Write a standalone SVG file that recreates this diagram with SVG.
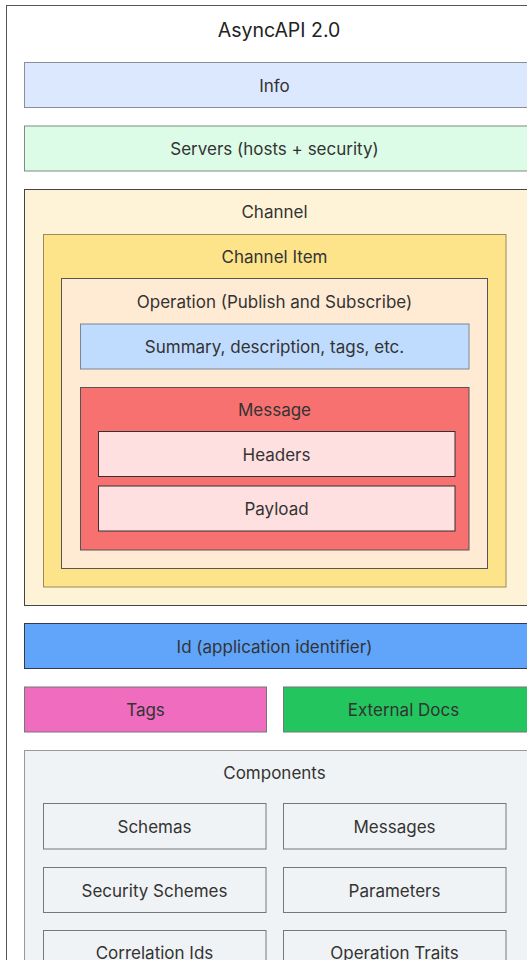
<svg xmlns="http://www.w3.org/2000/svg" width="527" height="960" viewBox="0 0 527 960">
  <style>
    text { font-family: Inter, "Noto Sans", "Liberation Sans", sans-serif; font-size: 17px; fill: #333; text-anchor: middle; }
    .title { font-size: 19.5px; fill: #222; }
    rect { stroke-width: 1; }
  </style>
  <rect width="527" height="960" fill="#ffffff"/>

  <!-- outer frame -->
  <g id="asyncapi">
    <rect x="6.5" y="5.5" width="560" height="1000" fill="#ffffff" stroke="#555"/>
    <text class="title" x="279" y="36.5">AsyncAPI 2.0</text>
  </g>

  <g id="info">
    <rect x="24.5" y="62.5" width="520" height="45" fill="#dbe8fe" stroke="#8a8f96"/>
    <text x="274.5" y="92">Info</text>
  </g>

  <g id="servers">
    <rect x="24.5" y="126" width="520" height="45" fill="#dcfce7" stroke="#7f8c80"/>
    <text x="274.5" y="154.5">Servers (hosts + security)</text>
  </g>

  <g id="channel">
    <rect x="24.5" y="189.5" width="520" height="416" fill="#fef3d6" stroke="#444"/>
    <text x="274.5" y="218">Channel</text>
  </g>

  <g id="channel-item">
    <rect x="43.5" y="234.5" width="462.5" height="352.5" fill="#fde48a" stroke="#9a8a5c"/>
    <text x="274.5" y="262.5">Channel Item</text>
  </g>

  <g id="operation">
    <rect x="61.5" y="278.5" width="426" height="290" fill="#ffebd4" stroke="#555"/>
    <text x="274.5" y="307.5">Operation (Publish and Subscribe)</text>
  </g>

  <g id="summary">
    <rect x="80.5" y="324" width="388.5" height="45" fill="#bfdbfe" stroke="#7a8696"/>
    <text x="274.5" y="352.5">Summary, description, tags, etc.</text>
  </g>

  <g id="message">
    <rect x="80.5" y="387.5" width="388.5" height="162.5" fill="#f87171" stroke="#555"/>
    <text x="274.5" y="416">Message</text>
  </g>

  <g id="headers">
    <rect x="98.5" y="431.5" width="356.5" height="45" fill="#fee0e0" stroke="#333"/>
    <text x="276.5" y="460.5">Headers</text>
  </g>

  <g id="payload">
    <rect x="98.5" y="486" width="356.5" height="45" fill="#fee0e0" stroke="#333"/>
    <text x="276.5" y="515">Payload</text>
  </g>

  <g id="id">
    <rect x="24.5" y="623.5" width="520" height="45" fill="#60a5fa" stroke="#333b4a"/>
    <text x="274.5" y="652.5">Id (application identifier)</text>
  </g>

  <g id="tags">
    <rect x="24.5" y="687" width="242" height="45" fill="#f06cbf" stroke="#777"/>
    <text x="145.5" y="716">Tags</text>
  </g>

  <g id="external-docs">
    <rect x="283.5" y="687" width="260" height="45" fill="#22c55e" stroke="#777"/>
    <text x="403.5" y="716">External Docs</text>
  </g>

  <g id="components">
    <rect x="24.5" y="750.5" width="520" height="300" fill="#f0f3f5" stroke="#999"/>
    <text x="274.5" y="779">Components</text>
  </g>

  <g id="schemas">
    <rect x="43.5" y="803.5" width="222.5" height="45.5" fill="#f0f3f5" stroke="#777"/>
    <text x="154.5" y="833">Schemas</text>
  </g>

  <g id="messages">
    <rect x="283.5" y="803.5" width="222.5" height="45.5" fill="#f0f3f5" stroke="#777"/>
    <text x="394.5" y="833">Messages</text>
  </g>

  <g id="security-schemes">
    <rect x="43.5" y="867.5" width="222.5" height="45" fill="#f0f3f5" stroke="#777"/>
    <text x="154.5" y="896.5">Security Schemes</text>
  </g>

  <g id="parameters">
    <rect x="283.5" y="867.5" width="222.5" height="45" fill="#f0f3f5" stroke="#777"/>
    <text x="394.5" y="896.5">Parameters</text>
  </g>

  <g id="correlation-ids">
    <rect x="43.5" y="930.5" width="222.5" height="45" fill="#f0f3f5" stroke="#777"/>
    <text x="154.5" y="959">Correlation Ids</text>
  </g>

  <g id="operation-traits">
    <rect x="283.5" y="930.5" width="222.5" height="45" fill="#f0f3f5" stroke="#777"/>
    <text x="394.5" y="959">Operation Traits</text>
  </g>

  <!-- no connectors in this layout; nesting conveys the structure -->
  <g id="connectors"/>
</svg>
